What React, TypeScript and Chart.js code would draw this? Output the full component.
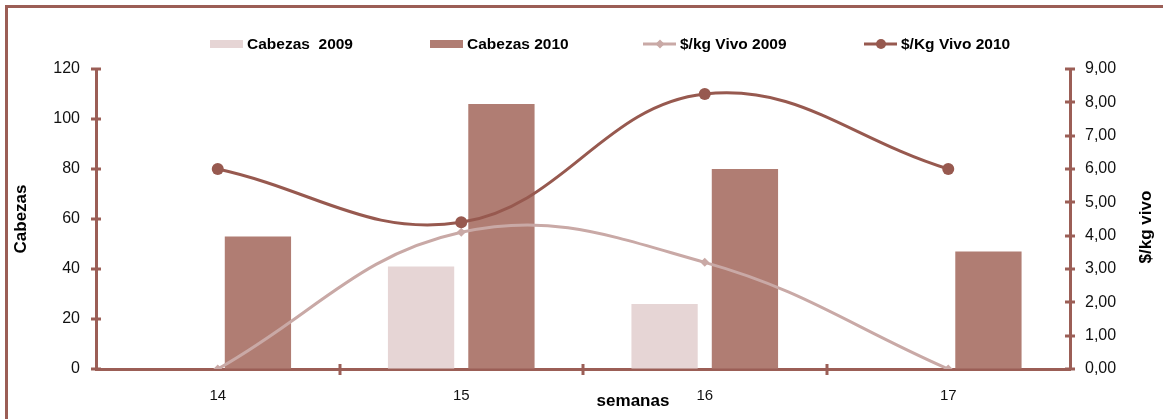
import React, { useEffect, useRef } from "react";
import { Chart, registerables } from "chart.js";

Chart.register(...registerables);

// Weeks on the x axis
const semanas = ["14", "15", "16", "17"];
// Head of cattle per week
const cabezas2009 = [0, 41, 26, 0];
const cabezas2010 = [53, 106, 80, 47];
// Live price per kg
const precio2009 = [0, 4.1, 3.2, 0];
const precio2010 = [6.0, 4.4, 8.25, 6.0];

const legendLabels = ["Cabezas  2009", "Cabezas 2010", "$/kg Vivo 2009", "$/Kg Vivo 2010"];

const AXIS = "#9b5e56";
const BAR_2009 = "#e6d5d5";
const BAR_2010 = "#b07d73";
const LINE_2009 = "#c9a9a6";
const LINE_2010 = "#97594f";
const FONT = "'Liberation Sans', Arial, sans-serif";

// Tick marks that cross the axis lines
const crossTicks = {
  id: "crossTicks",
  afterDatasetsDraw(chart: any) {
    const { ctx, scales } = chart;
    ctx.save();
    ctx.strokeStyle = AXIS;
    ctx.lineWidth = 3;
    for (const id of ["y", "y1"]) {
      const s = scales[id];
      const x = id === "y" ? chart.chartArea.left : chart.chartArea.right;
      s.ticks.forEach((t: any) => {
        const py = Math.round(s.getPixelForValue(t.value));
        ctx.beginPath();
        ctx.moveTo(x - 5, py);
        ctx.lineTo(x + 5, py);
        ctx.stroke();
      });
    }
    const sx = scales.x;
    const yb = chart.chartArea.bottom;
    for (let i = 0; i < semanas.length - 1; i++) {
      const px = Math.round((sx.getPixelForValue(i) + sx.getPixelForValue(i + 1)) / 2);
      ctx.beginPath();
      ctx.moveTo(px, yb - 5);
      ctx.lineTo(px, yb + 6);
      ctx.stroke();
    }
    ctx.restore();
  },
};

// Axis titles and legend row
const annotations = {
  id: "annotations",
  afterDraw(chart: any) {
    const { ctx, chartArea } = chart;
    const midY = (chartArea.top + chartArea.bottom) / 2;
    ctx.save();
    ctx.fillStyle = "#000";
    ctx.font = `bold 17px ${FONT}`;
    ctx.textAlign = "center";
    ctx.textBaseline = "middle";

    ctx.save();
    ctx.translate(chartArea.left - 75, midY);
    ctx.rotate(-Math.PI / 2);
    ctx.fillText("Cabezas", 0, 0);
    ctx.restore();

    ctx.save();
    ctx.translate(chartArea.right + 76, midY + 8);
    ctx.rotate(-Math.PI / 2);
    ctx.fillText("$/kg vivo", 0, 0);
    ctx.restore();

    ctx.fillText("semanas", chartArea.left + 537, chartArea.bottom + 32);

    // legend
    const ly = 44;
    const items = [
      { x: 210, kind: "bar", color: BAR_2009 },
      { x: 430, kind: "bar", color: BAR_2010 },
      { x: 643, kind: "diamond", color: LINE_2009 },
      { x: 864, kind: "circle", color: LINE_2010 },
    ];
    ctx.font = `bold 15.5px ${FONT}`;
    ctx.textAlign = "left";
    items.forEach((it, i) => {
      if (it.kind === "bar") {
        ctx.fillStyle = it.color;
        ctx.fillRect(it.x, ly - 4, 33, 8);
      } else {
        ctx.strokeStyle = it.color;
        ctx.lineWidth = 3;
        ctx.beginPath();
        ctx.moveTo(it.x, ly);
        ctx.lineTo(it.x + 33, ly);
        ctx.stroke();
        ctx.fillStyle = it.color;
        ctx.beginPath();
        if (it.kind === "circle") {
          ctx.arc(it.x + 17, ly, 5, 0, Math.PI * 2);
        } else {
          const cx = it.x + 17;
          ctx.moveTo(cx, ly - 4.5);
          ctx.lineTo(cx + 4.5, ly);
          ctx.lineTo(cx, ly + 4.5);
          ctx.lineTo(cx - 4.5, ly);
          ctx.closePath();
        }
        ctx.fill();
      }
      ctx.fillStyle = "#000";
      ctx.fillText(legendLabels[i], it.x + 37, ly + 1);
    });
    ctx.restore();
  },
};

export default function App() {
  const canvasRef = useRef<HTMLCanvasElement>(null);

  useEffect(() => {
    const canvas = canvasRef.current;
    if (!canvas) return;
    const chart = new Chart(canvas, {
      type: "bar",
      data: {
        labels: semanas,
        datasets: [
          {
            type: "line",
            label: legendLabels[3],
            data: precio2010,
            yAxisID: "y1",
            borderColor: LINE_2010,
            backgroundColor: LINE_2010,
            borderWidth: 3,
            tension: 0.4,
            pointStyle: "circle",
            pointRadius: 6,
            pointBorderWidth: 0,
            order: 0,
          },
          {
            type: "line",
            label: legendLabels[2],
            data: precio2009,
            yAxisID: "y1",
            borderColor: LINE_2009,
            backgroundColor: LINE_2009,
            borderWidth: 3,
            tension: 0.4,
            pointStyle: "rectRot",
            pointRadius: 4.5,
            pointBorderWidth: 0,
            order: 1,
          },
          {
            type: "bar",
            label: legendLabels[0],
            data: cabezas2009,
            yAxisID: "y",
            backgroundColor: BAR_2009,
            categoryPercentage: 0.66,
            barPercentage: 0.825,
            order: 2,
          },
          {
            type: "bar",
            label: legendLabels[1],
            data: cabezas2010,
            yAxisID: "y",
            backgroundColor: BAR_2010,
            categoryPercentage: 0.66,
            barPercentage: 0.825,
            order: 3,
          },
        ] as any,
      },
      options: {
        responsive: false,
        animation: false,
        devicePixelRatio: 1,
        layout: { padding: { top: 69, left: 0, right: 0, bottom: 0 } },
        plugins: {
          legend: { display: false },
          tooltip: { enabled: false },
        },
        scales: {
          x: {
            offset: true,
            grid: { display: true, drawOnChartArea: false, drawTicks: false, offset: true },
            border: { display: true, color: AXIS, width: 3 },
            ticks: { color: "#111", font: { family: FONT, size: 15 }, padding: 18 },
            afterFit(scale: any) {
              scale.height = 50;
            },
          },
          y: {
            position: "left",
            min: 0,
            max: 120,
            ticks: { stepSize: 20, color: "#111", font: { family: FONT, size: 16 }, padding: 16 },
            grid: { display: true, drawOnChartArea: false, drawTicks: false },
            border: { display: true, color: AXIS, width: 3 },
            afterFit(scale: any) {
              scale.width = 96;
            },
          },
          y1: {
            position: "right",
            min: 0,
            max: 9,
            ticks: {
              stepSize: 1,
              color: "#111",
              font: { family: FONT, size: 16 },
              padding: 15,
              callback: (v: any) => Number(v).toFixed(2).replace(".", ","),
            },
            grid: { display: true, drawOnChartArea: false, drawTicks: false },
            border: { display: true, color: AXIS, width: 3 },
            afterFit(scale: any) {
              scale.width = 93;
            },
          },
        },
      } as any,
      plugins: [crossTicks, annotations],
    });
    return () => chart.destroy();
  }, []);

  return (
    <div
      style={{
        position: "absolute",
        left: 0,
        top: 0,
        width: 1163,
        height: 419,
        background: "#fff",
        overflow: "hidden",
      }}
    >
      <canvas ref={canvasRef} width={1163} height={419} style={{ position: "absolute", left: 0, top: 0 }} />
      <div
        style={{
          position: "absolute",
          left: 5,
          top: 5,
          width: 1200,
          height: 450,
          borderTop: `3px solid ${AXIS}`,
          borderLeft: `3px solid ${AXIS}`,
          pointerEvents: "none",
        }}
      />
    </div>
  );
}
